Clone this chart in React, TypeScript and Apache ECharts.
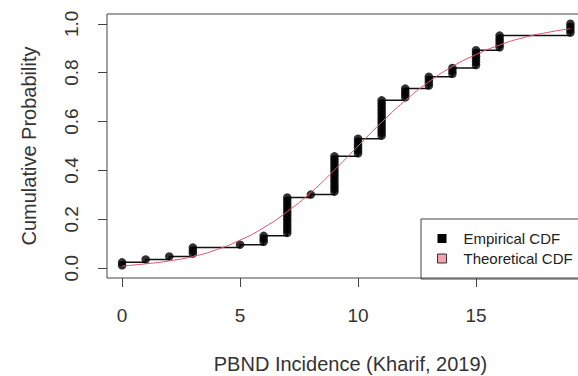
import React, { useEffect, useRef } from "react";
import * as echarts from "echarts";

// Observed PBND incidence values and their frequencies
const xValues = [0, 1, 2, 3, 5, 6, 7, 8, 9, 10, 11, 12, 13, 14, 15, 16, 19];
const counts = [2, 1, 1, 3, 1, 3, 13, 1, 13, 6, 13, 4, 4, 3, 6, 5, 4];

// Theoretical (fitted) CDF
const theoX = [0, 1, 2, 3, 4, 5, 6, 7, 8, 9, 10, 11, 12, 13, 14, 15, 16, 17, 18, 19];
const theoCDF = [0.009, 0.018, 0.03, 0.048, 0.076, 0.115, 0.166, 0.232, 0.31, 0.402, 0.5, 0.597, 0.686, 0.762, 0.825, 0.874, 0.913, 0.943, 0.964, 0.98];

const xTicks = [0, 5, 10, 15];
const yTicks = [0, 0.2, 0.4, 0.6, 0.8, 1.0];

const FONT = "'Liberation Sans', Arial, sans-serif";
const TXT = "#333";

export default function App() {
  const ref = useRef<HTMLDivElement>(null);
  useEffect(() => {
    if (!ref.current) return;
    const chart = echarts.init(ref.current, null, { renderer: "svg" });
    const n = counts.reduce((a, b) => a + b, 0);
    const stepData: number[][] = [];
    const pointData: number[][] = [];
    let cum = 0;
    xValues.forEach((x, i) => {
      for (let k = 1; k <= counts[i]; k++) pointData.push([x, (cum + k) / n]);
      cum += counts[i];
      stepData.push([x, cum / n]);
    });
    const theoData = theoX.map((x, i) => [x, theoCDF[i]]);

    chart.setOption({
      animation: false,
      textStyle: { fontFamily: FONT },
      grid: {
        left: 107,
        top: 14,
        width: 487,
        height: 264,
        show: true,
        borderColor: "#444",
        borderWidth: 1,
        backgroundColor: "transparent",
        outerBoundsMode: "none",
        containLabel: false,
      },
      legend: {
        left: 421,
        top: 219,
        orient: "vertical",
        selectedMode: false,
        borderColor: "#444",
        borderWidth: 1,
        borderRadius: 0,
        padding: [12, 60, 13, 16],
        itemGap: 5,
        itemWidth: 9,
        itemHeight: 9,
        textStyle: { fontSize: 15, color: "#222", fontFamily: FONT, padding: [0, 0, 0, 12] },
        data: [
          { name: "Empirical CDF", icon: "rect", itemStyle: { color: "#000", borderWidth: 0 } },
          { name: "Theoretical CDF", icon: "rect", itemStyle: { color: "#f2a3ad", borderColor: "#333", borderWidth: 1 } },
        ],
      },
      xAxis: {
        type: "value",
        min: -0.64,
        max: 20,
        name: "PBND Incidence (Kharif, 2019)",
        nameLocation: "middle",
        nameGap: 76,
        nameTextStyle: { fontSize: 20, color: TXT, fontFamily: FONT },
        axisLine: { show: false, onZero: false },
        axisTick: { show: true, length: 9, customValues: xTicks, lineStyle: { color: "#444" } },
        axisLabel: { customValues: xTicks, fontSize: 19, color: TXT, margin: 28, fontFamily: FONT },
        splitLine: { show: false },
      },
      yAxis: {
        type: "value",
        min: -0.04,
        max: 1.04,
        name: "Cumulative Probability",
        nameLocation: "middle",
        nameGap: 68,
        nameTextStyle: { fontSize: 20, color: TXT, fontFamily: FONT },
        axisLine: { show: false, onZero: false },
        axisTick: { show: true, length: 9, customValues: yTicks, lineStyle: { color: "#444" } },
        axisLabel: {
          customValues: yTicks,
          rotate: 90,
          fontSize: 19,
          color: TXT,
          margin: 26,
          fontFamily: FONT,
          formatter: (v: number) => v.toFixed(1),
        },
        splitLine: { show: false },
      },
      series: [
        {
          name: "Empirical CDF",
          type: "line",
          step: "end",
          data: stepData,
          showSymbol: false,
          symbol: "none",
          lineStyle: { color: "#111", width: 1.5 },
          itemStyle: { color: "#000" },
          z: 2,
        },
        {
          name: "Empirical CDF",
          type: "scatter",
          data: pointData,
          symbol: "circle",
          symbolSize: 8.5,
          itemStyle: { color: "#000" },
          z: 3,
        },
        {
          name: "Theoretical CDF",
          type: "line",
          data: theoData,
          smooth: 0.6,
          showSymbol: false,
          symbol: "none",
          lineStyle: { color: "#e4506a", width: 1 },
          itemStyle: { color: "#f2a3ad" },
          z: 4,
        },
      ],
    });
    return () => chart.dispose();
  }, []);
  return (
    <div
      ref={ref}
      style={{ position: "fixed", left: 0, top: 0, width: 578, height: 376, background: "#fff" }}
    />
  );
}
